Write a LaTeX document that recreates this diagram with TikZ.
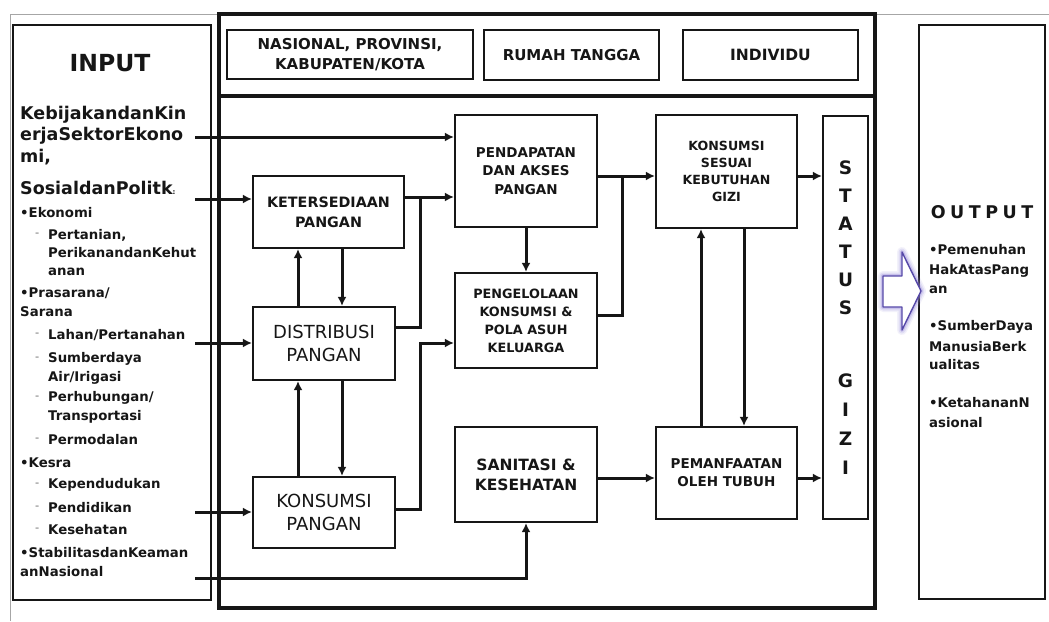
\documentclass[tikz,border=0pt]{standalone}
\usepackage{fontspec}
\setmainfont{DejaVu Sans}
\usetikzlibrary{arrows.meta}

\definecolor{ink}{HTML}{161616}
\definecolor{glow}{HTML}{9C8EDC}
\definecolor{glowedge}{HTML}{5648A8}

\newcommand\setfs[2]{\fontsize{#1}{#2}\selectfont}

\begin{document}
\begin{tikzpicture}[x=1pt,y=-1pt,
  every node/.style={text=ink},
  frame/.style={draw=ink, line width=2.2pt, inner sep=0pt, align=center},
  arr/.style={draw=ink, line width=3pt, -{Latex[length=9pt,width=9pt]}},
  link/.style={draw=ink, line width=3pt},
  inbig/.style={anchor=west, inner sep=0pt, font=\bfseries\setfs{17.5}{20}},
  insmall/.style={anchor=west, inner sep=0pt, font=\bfseries\setfs{13.3}{16}},
  itemdash/.style={anchor=west, inner sep=0pt, text=gray!70, font=\bfseries\setfs{10}{12}},
]
\useasboundingbox (0,0) rectangle (1049,621);
\fill[white] (0,0) rectangle (1049,621);

% page frame
\draw[gray!70, line width=0.9pt] (10,621) -- (10,14) -- (1049,14);

% ---------- INPUT column ----------
\node[draw=ink, line width=2.6pt, minimum width=198pt, minimum height=575pt, inner sep=0pt] (inbox) at (112,312.5) {};
\node[inner sep=0pt, font=\bfseries\setfs{23.5}{26}] (intitle) at (110,63) {INPUT};

\node[inbig] (ib1) at (20,115) {KebijakandanKin};
\node[inbig] (ib2) at (20,136) {erjaSektorEkono};
\node[inbig] (ib3) at (20,157) {mi,};
\node[inbig] (ib4) at (20,188) {SosialdanPolitk{\setfs{7}{8}:}};

\node[insmall] (is1)  at (20,213) {•Ekonomi};
\node[itemdash] (id1) at (35,235) {-};
\node[insmall] (is2)  at (48,235) {Pertanian,};
\node[insmall] (is3)  at (48,253) {PerikanandanKehut};
\node[insmall] (is4)  at (48,272) {anan};
\node[insmall] (is5)  at (20,293) {•Prasarana/};
\node[insmall] (is6)  at (20,312) {Sarana};
\node[itemdash] (id2) at (35,335) {-};
\node[insmall] (is7)  at (48,335) {Lahan/Pertanahan};
\node[itemdash] (id3) at (35,359) {-};
\node[insmall] (is8)  at (48,359) {Sumberdaya};
\node[insmall] (is9)  at (48,378) {Air/Irigasi};
\node[itemdash] (id4) at (35,398) {-};
\node[insmall] (is10) at (48,398) {Perhubungan/};
\node[insmall] (is11) at (48,417) {Transportasi};
\node[itemdash] (id5) at (35,440) {-};
\node[insmall] (is12) at (48,440) {Permodalan};
\node[insmall] (is13) at (20,463) {•Kesra};
\node[itemdash] (id6) at (35,485) {-};
\node[insmall] (is14) at (48,485) {Kependudukan};
\node[itemdash] (id7) at (35,508) {-};
\node[insmall] (is15) at (48,508) {Pendidikan};
\node[itemdash] (id8) at (35,530) {-};
\node[insmall] (is16) at (48,530) {Kesehatan};
\node[insmall] (is17) at (20,553) {•StabilitasdanKeaman};
\node[insmall] (is18) at (20,572) {anNasional};

% ---------- central frame ----------
\node[draw=ink, line width=4.5pt, minimum width=656pt, minimum height=594pt, inner sep=0pt] (main) at (547,311) {};
\coordinate (sepL) at (219,96);
\draw[ink, line width=4.5pt] (sepL) -- (sepL -| main.east);

\node[frame, minimum width=246pt, minimum height=49pt, font=\bfseries\setfs{15}{20}] (nas) at (350,54.5) {NASIONAL, PROVINSI,\\KABUPATEN/KOTA};
\node[frame, minimum width=175pt, minimum height=50pt, font=\bfseries\setfs{15}{20}] (rumah) at (571.5,55) {RUMAH TANGGA};
\node[frame, minimum width=175pt, minimum height=50pt, font=\bfseries\setfs{15.5}{20}] (indiv) at (770.5,55) {INDIVIDU};

\node[frame, minimum width=151pt, minimum height=72pt, font=\bfseries\setfs{14.3}{20}] (ket) at (328.5,212) {KETERSEDIAAN\\PANGAN};
\node[frame, minimum width=142pt, minimum height=73pt, font=\setfs{18}{23}] (dist) at (324,343.5) {DISTRIBUSI\\PANGAN};
\node[frame, minimum width=142pt, minimum height=71pt, font=\setfs{18}{23}] (kons) at (324,512.5) {KONSUMSI\\PANGAN};

\node[frame, minimum width=142pt, minimum height=112pt, font=\bfseries\setfs{13.5}{18.5}] (pend) at (526,171) {PENDAPATAN\\DAN AKSES\\PANGAN};
\node[frame, minimum width=142pt, minimum height=95pt, font=\bfseries\setfs{12.8}{18}] (peng) at (526,320.5) {PENGELOLAAN\\KONSUMSI \&\\POLA ASUH\\KELUARGA};
\node[frame, minimum width=142pt, minimum height=95pt, font=\bfseries\setfs{15.5}{20}] (sani) at (526,474.5) {SANITASI \&\\KESEHATAN};

\node[frame, minimum width=141pt, minimum height=113pt, font=\bfseries\setfs{12.6}{17}] (ksg) at (726.5,171.5) {KONSUMSI\\SESUAI\\KEBUTUHAN\\GIZI};
\node[frame, minimum width=141pt, minimum height=92pt, font=\bfseries\setfs{13.5}{18}] (pem) at (726.5,473) {PEMANFAATAN\\OLEH TUBUH};

\node[frame, minimum width=45pt, minimum height=403pt] (status) at (845.5,317.5) {};
\node[inner sep=0pt, align=center, font=\bfseries\setfs{18.5}{28}] (stt1) at (845.5,238) {S\\T\\A\\T\\U\\S};
\node[inner sep=0pt, align=center, font=\bfseries\setfs{18.5}{29}] (stt2) at (845.5,424) {G\\I\\Z\\I};

% ---------- connectors ----------
\coordinate (a1) at (195,137);
\coordinate (a2) at (195,199);
\coordinate (a3) at (195,343);
\coordinate (a4) at (195,512);
\coordinate (a5) at (195,578);
\draw[arr] (a1) -- (a1 -| pend.west);
\draw[arr] (a2) -- (a2 -| ket.west);
\draw[arr] (a3) -- (a3 -| dist.west);
\draw[arr] (a4) -- (a4 -| kons.west);
\draw[arr] (a5) -| (sani.south);

% food availability / distribution / consumption loop
\coordinate (u1) at (298,0);
\coordinate (u2) at (342,0);
\draw[arr] (u1 |- dist.north) -- (u1 |- ket.south);
\draw[arr] (u2 |- ket.south) -- (u2 |- dist.north);
\draw[arr] (u1 |- kons.north) -- (u1 |- dist.south);
\draw[arr] (u2 |- dist.south) -- (u2 |- kons.north);

% merging into income and household management
\coordinate (j1) at (420,197);
\coordinate (j2) at (420,327);
\coordinate (j3) at (420,343);
\coordinate (j4) at (420,509);
\draw[arr] (ket.east |- j1) -- (j1 -| pend.west);
\draw[link] (dist.east |- j2) -- (j2) -- (j1);
\draw[arr] (kons.east |- j4) -- (j4) -- (j3) -- (j3 -| peng.west);
\draw[arr] (pend.south) -- (peng.north);

% towards nutrient consumption
\coordinate (j5) at (622,176);
\coordinate (j6) at (622,315);
\draw[arr] (pend.east |- j5) -- (j5 -| ksg.west);
\draw[link] (peng.east |- j6) -- (j6) -- (j5);
\draw[arr] (ksg.east |- j5) -- (j5 -| status.west);

\coordinate (v1) at (701,0);
\coordinate (v2) at (744,0);
\draw[arr] (v1 |- pem.north) -- (v1 |- ksg.south);
\draw[arr] (v2 |- ksg.south) -- (v2 |- pem.north);

\coordinate (h1) at (600,478);
\draw[arr] (sani.east |- h1) -- (h1 -| pem.west);
\draw[arr] (pem.east |- h1) -- (h1 -| status.west);

% ---------- OUTPUT column ----------
\node[draw=ink, line width=2.2pt, minimum width=126pt, minimum height=574pt, inner sep=0pt] (outbox) at (982,312) {};
\node[inner sep=0pt, font=\bfseries\setfs{17.5}{20}] (outtitle) at (982,212) {O\kern4.5pt U\kern4.5pt T\kern4.5pt P\kern4.5pt U\kern4.5pt T};
\node[insmall] (os1) at (929,250) {•Pemenuhan};
\node[insmall] (os2) at (929,271) {HakAtasPang};
\node[insmall] (os3) at (929,290) {an};
\node[insmall] (os4) at (929,327) {•SumberDaya};
\node[insmall] (os5) at (929,347) {ManusiaBerk};
\node[insmall] (os6) at (929,365) {ualitas};
\node[insmall] (os7) at (929,403) {•KetahananN};
\node[insmall] (os8) at (929,423) {asional};

% hollow block arrow from the frame to the results
\coordinate (bt) at (921,291);
\foreach \w/\o in {10/0.12,7/0.2,4/0.35}
  \draw[glow, line width=\w pt, opacity=\o, line join=round]
    (883,276) -- (902,276) -- (902,252) -- (bt) -- (902,330) -- (902,307) -- (883,307) -- cycle;
\draw[glowedge, fill=white, line width=1.4pt, line join=round]
    (883,276) -- (902,276) -- (902,252) -- (bt) -- (902,330) -- (902,307) -- (883,307) -- cycle;
\end{tikzpicture}
\end{document}
